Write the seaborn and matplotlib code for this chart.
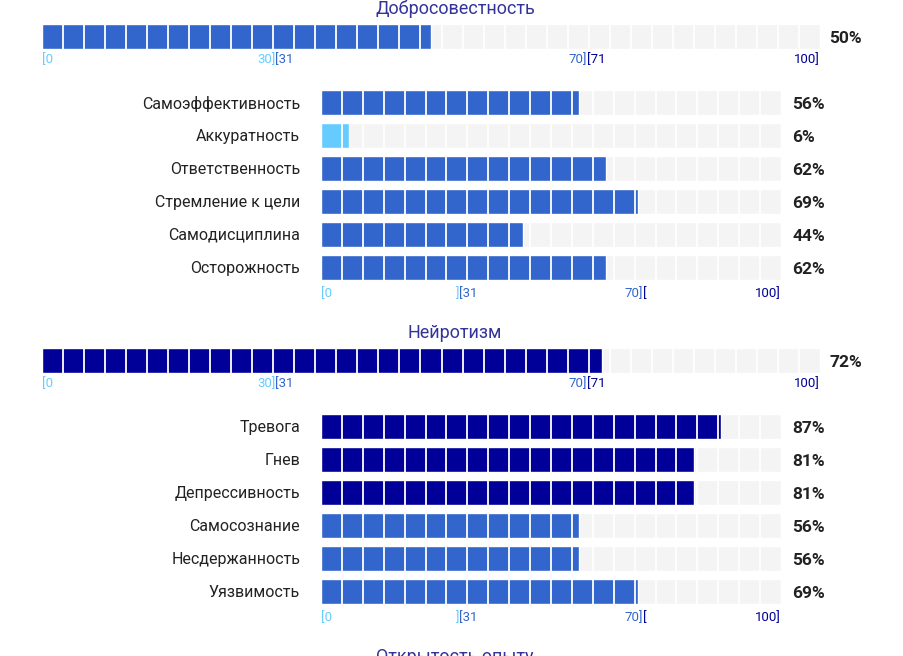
import matplotlib
matplotlib.use("Agg")
import matplotlib.pyplot as plt
import seaborn as sns
import pandas as pd

sns.set_theme(style="white")
plt.rcParams['font.family'] = ['Roboto', 'DejaVu Sans']

# ---- data ----
domains = ["Добросовестность", "Нейротизм", "Открытость опыту"]
domain_scores = [50, 72, None]

consc_labels = ["Самоэффективность", "Аккуратность", "Ответственность",
                "Стремление к цели", "Самодисциплина", "Осторожность"]
consc_values = [56, 6, 62, 69, 44, 62]

neuro_labels = ["Тревога", "Гнев", "Депрессивность", "Самосознание",
                "Несдержанность", "Уязвимость"]
neuro_values = [87, 81, 81, 56, 56, 69]

big_ticks = [("[0", 0, "left", 0), ("30]", 30, "right", 0), ("[31", 30, "left", 1),
             ("70]", 70, "right", 1), ("[71", 70, "left", 2), ("100]", 100, "right", 2)]
sub_ticks = [("[0", 0, "left", 0), ("]", 30, "right", 0), ("[31", 30, "left", 1),
             ("70]", 70, "right", 1), ("[", 70, "left", 2), ("100]", 100, "right", 2)]

LIGHT, MID, DARK = "#66ccff", "#3366cc", "#000099"
BAND = [LIGHT, MID, DARK]
BG = "#f4f4f4"
TITLE_C = "#333399"
TEXT_C = "#222222"


def band_color(v):
    if v <= 30:
        return LIGHT
    if v <= 70:
        return MID
    return DARK


W, H = 904, 656
fig = plt.figure(figsize=(W / 100, H / 100), dpi=100)


def px_axes(left, right, top, bottom):
    return fig.add_axes([left / W, 1 - bottom / H, (right - left) / W, (bottom - top) / H])


def segments(ax, n):
    for k in range(1, n):
        ax.axvline(k * 100 / n, color="white", lw=1.3, zorder=5)


def draw_ticks(ax, ticks, dy):
    for txt, x, ha, b in ticks:
        ax.annotate(txt, xy=(x, 0), xycoords=("data", "axes fraction"),
                    xytext=(0, dy), textcoords="offset points",
                    ha=ha, va="center", fontsize=9.5, color=BAND[b])


def clean(ax):
    ax.set_xlim(0, 100)
    ax.set_xlabel("")
    ax.set_ylabel("")
    ax.set_xticks([])
    for s in ax.spines.values():
        s.set_visible(False)
    ax.patch.set_alpha(0)


def block(offset, title, score, labels, values):
    fig.text(455 / W, 1 - (offset + 9) / H, title, ha="center", va="center",
             fontsize=13, color=TITLE_C)
    if score is None:
        return
    # big domain bar
    ax = px_axes(42, 820, offset + 24, offset + 49)
    df = pd.DataFrame({"d": [title], "full": [100], "v": [score]})
    sns.barplot(data=df, x="full", y="d", color=BG, width=1, ax=ax, zorder=1)
    sns.barplot(data=df, x="v", y="d", color=band_color(score), width=1, ax=ax,
                saturation=1, zorder=2)
    ax.set_ylim(0.5, -0.5)
    clean(ax)
    ax.set_yticks([])
    segments(ax, 37)
    draw_ticks(ax, big_ticks, -7.5)
    ax.annotate(f"{score}%", xy=(100, 0), xycoords="data", xytext=(6.5, -1.2),
                textcoords="offset points", ha="left", va="center",
                fontsize=12.5, fontweight="bold", color=TEXT_C)

    # subscales
    top = offset + 102 - 16.5
    bot = offset + 267 + 16.5
    ax2 = px_axes(321, 781, top, bot)
    sdf = pd.DataFrame({"lab": labels, "full": [100] * len(labels), "v": values})
    sns.barplot(data=sdf, x="full", y="lab", color=BG, width=25 / 33, ax=ax2, zorder=1)
    sns.barplot(data=sdf, x="v", y="lab", hue="lab",
                palette=[band_color(v) for v in values], width=25 / 33,
                saturation=1, legend=False, ax=ax2, zorder=2)
    ax2.set_ylim(len(labels) - 0.5, -0.5)
    clean(ax2)
    ax2.tick_params(axis="y", length=0, pad=15, labelsize=11.5, labelcolor=TEXT_C)
    segments(ax2, 22)
    draw_ticks(ax2, sub_ticks, -7.5)
    for i, v in enumerate(values):
        ax2.annotate(f"{v}%", xy=(100, i), xycoords="data", xytext=(8, -1.5),
                     textcoords="offset points", ha="left", va="center",
                     fontsize=12.5, fontweight="bold", color=TEXT_C)


block(0, domains[0], domain_scores[0], consc_labels, consc_values)
block(324, domains[1], domain_scores[1], neuro_labels, neuro_values)
block(648, domains[2], domain_scores[2], [], [])

fig.savefig("out.png", dpi=100)
